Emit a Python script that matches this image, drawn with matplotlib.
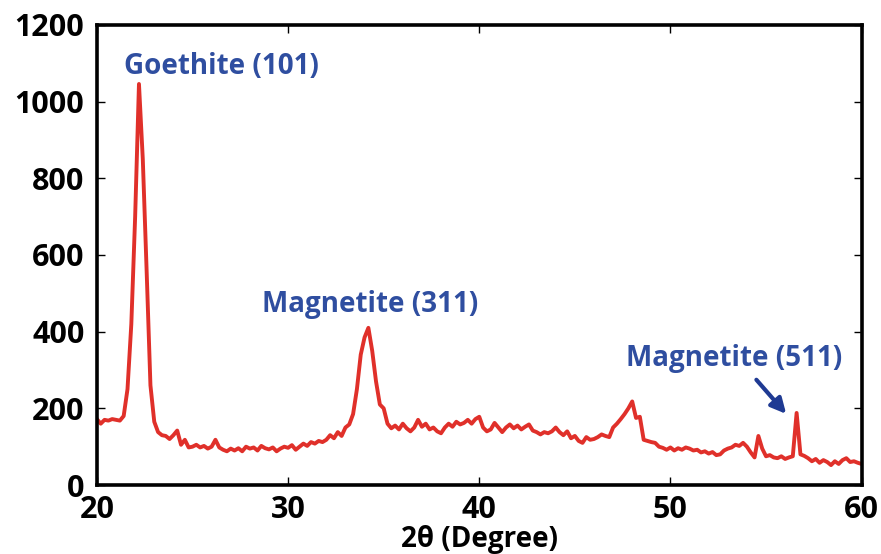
import numpy as np
import matplotlib.pyplot as plt

# 2theta grid of the scan (0.2 degree steps) and intensity
two_theta = np.round(np.arange(20.0, 60.01, 0.2), 1)
intensity = [
    172, 160, 170, 168, 172, 170, 168, 180, 250, 420,    # 20.0 - 21.8
    700, 1046, 850, 560, 260, 165, 138, 130, 128, 120,   # 22.0 - 23.8
    130, 142, 105, 118, 98, 100, 105, 98, 102, 95,       # 24.0 - 25.8
    100, 118, 98, 92, 88, 95, 90, 96, 88, 100,           # 26.0 - 27.8
    95, 98, 90, 102, 96, 93, 98, 88, 95, 100,            # 28.0 - 29.8
    97, 104, 92, 100, 108, 102, 112, 108, 115, 112,      # 30.0 - 31.8
    118, 130, 122, 138, 128, 150, 158, 185, 250, 340,    # 32.0 - 33.8
    385, 410, 350, 270, 210, 200, 160, 148, 155, 145,    # 34.0 - 35.8
    160, 148, 140, 150, 170, 152, 160, 145, 150, 140,    # 36.0 - 37.8
    135, 150, 160, 152, 165, 158, 162, 170, 160, 172,    # 38.0 - 39.8
    178, 150, 140, 145, 162, 150, 138, 150, 158, 148,    # 40.0 - 41.8
    155, 145, 152, 158, 142, 138, 132, 138, 135, 140,    # 42.0 - 43.8
    150, 138, 130, 140, 122, 128, 115, 110, 125, 118,    # 44.0 - 45.8
    120, 125, 132, 128, 125, 150, 160, 172, 185, 200,    # 46.0 - 47.8
    218, 175, 178, 118, 115, 112, 110, 100, 97, 92,      # 48.0 - 49.8
    98, 90, 96, 92, 98, 95, 90, 92, 85, 88,              # 50.0 - 51.8
    82, 86, 78, 80, 90, 95, 98, 105, 102, 110,           # 52.0 - 53.8
    100, 85, 72, 128, 95, 75, 78, 72, 70, 75,            # 54.0 - 55.8
    68, 72, 75, 188, 80, 76, 70, 62, 68, 58,             # 56.0 - 57.8
    65, 60, 52, 62, 55, 65, 70, 60, 62, 58,              # 58.0 - 59.8
    55,                                                  # 60.0
]

peak_labels = ["Goethite (101)", "Magnetite (311)", "Magnetite (511)"]
label_x = [26.5, 34.3, 53.35]
label_y = [1092, 472, 331]

blue = "#2f4ea0"
red = "#e0302a"
fnt = "Open Sans"

fig = plt.figure(figsize=(8.81, 5.54), dpi=100)
ax = fig.add_axes([0.110, 0.1245, 0.868, 0.8305])

ax.plot(two_theta, intensity, color=red, linewidth=2.8)

ax.set_xlim(20, 60)
ax.set_ylim(0, 1200)
ax.set_xticks([20, 30, 40, 50, 60])
ax.set_yticks([0, 200, 400, 600, 800, 1000, 1200])

for s in ax.spines.values():
    s.set_linewidth(2.6)
ax.tick_params(direction="in", length=6, width=1, top=True, right=True,
               labelsize=22)
ax.tick_params(axis="x", pad=7)
ax.tick_params(axis="y", pad=9)
for lab in ax.get_xticklabels() + ax.get_yticklabels():
    lab.set_fontfamily(fnt)
    lab.set_fontweight("bold")

ax.set_xlabel("2θ (Degree)", fontsize=20, fontweight="bold",
              family=fnt, labelpad=0)

for txt, tx, ty in zip(peak_labels, label_x, label_y):
    ax.text(tx, ty, txt, ha="center", va="center", fontsize=20,
            fontweight="bold", family=fnt, color=blue)

ax.annotate("", xy=(56.15, 180), xytext=(54.4, 280),
            arrowprops=dict(arrowstyle="-|>,head_width=0.45,head_length=0.9",
                            color="#1f3a93", linewidth=3))

fig.savefig("out.png", dpi=100)
